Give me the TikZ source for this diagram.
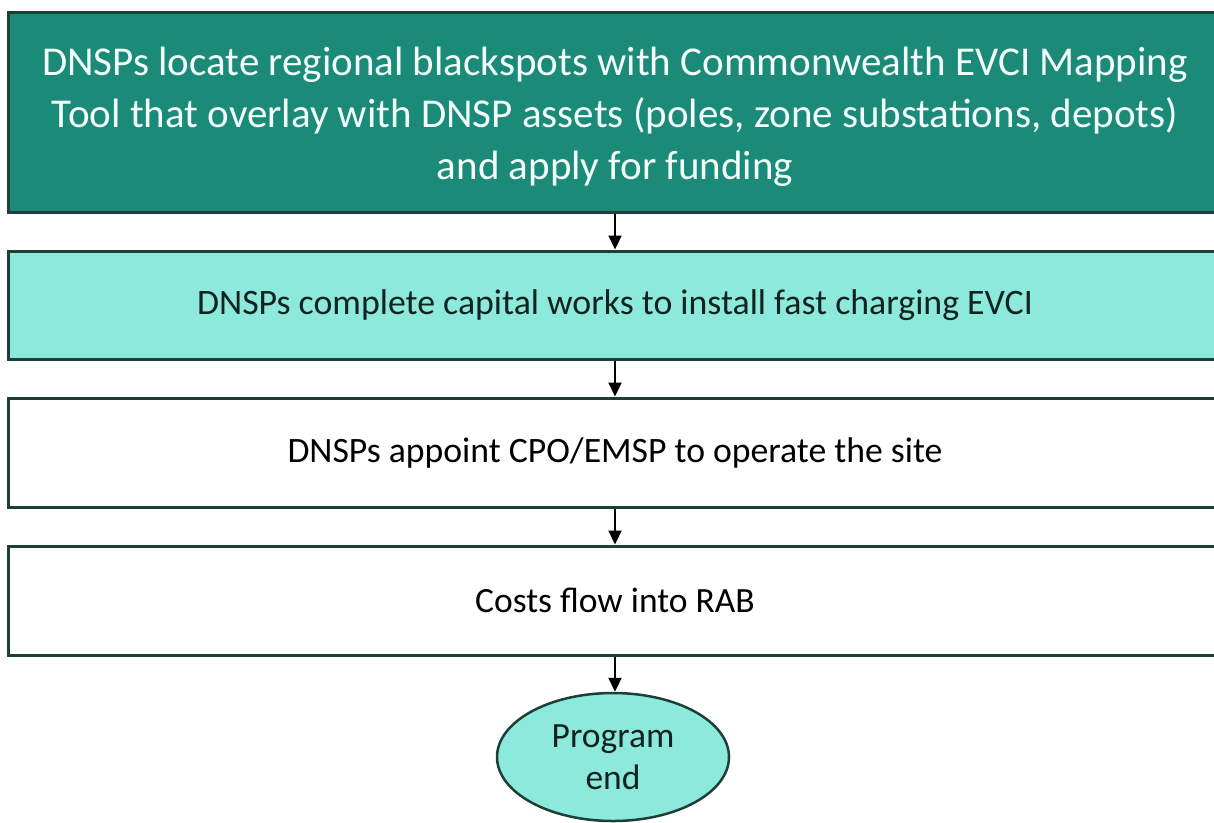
\documentclass[tikz,border=0pt]{standalone}
\usepackage{fontspec}
\setmainfont{Carlito}
\usetikzlibrary{arrows.meta,shapes.geometric}
\definecolor{darkteal}{HTML}{1B8A78}
\definecolor{lightteal}{HTML}{8DE9DC}
\definecolor{bordercol}{HTML}{1C4038}
\definecolor{textwhite}{HTML}{F2FFFA}
\definecolor{textdark}{HTML}{10231F}
\begin{document}
\begin{tikzpicture}[x=1pt,y=-1pt,
  stepbox/.style={draw=bordercol, line width=3pt, minimum width=1214pt, inner sep=0pt, align=center},
  flow/.style={line width=2.2pt, black, -{Triangle[width=13pt,length=14pt]}},
  endnode/.style={ellipse, draw=bordercol, line width=2.5pt, fill=lightteal, minimum width=232pt, minimum height=128pt, inner sep=0pt, align=center, text=textdark, font=\fontsize{35.5}{42}\selectfont}
]
\useasboundingbox (0,0) rectangle (1214,822);
\fill[white] (0,0) rectangle (1214,822);
\node[stepbox, fill=darkteal, minimum height=200pt, text=textwhite, font=\fontsize{41}{52}\selectfont] (b1) at (615,112)
  {\rule{0pt}{39pt}DNSPs locate regional blackspots with Commonwealth EVCI Mapping\\
   Tool that overlay with DNSP assets (poles, zone substations, depots)\\
   and apply for funding};
\node[stepbox, fill=lightteal, minimum height=108pt, text=textdark, font=\fontsize{35.8}{42}\selectfont] (b2) at (615,305)
  {DNSPs complete capital works to install fast charging EVCI};
\node[stepbox, fill=white, minimum height=109pt, text=black, font=\fontsize{35.7}{42}\selectfont] (b3) at (615,452.5)
  {DNSPs appoint CPO/EMSP to operate the site};
\node[stepbox, fill=white, minimum height=109pt, text=black, font=\fontsize{35.5}{42}\selectfont] (b4) at (615,600.5)
  {Costs flow into RAB};
\node[endnode] (e) at (613,757) {Program\\end};
\draw[flow] (b1.south) -- (b2.north);
\draw[flow] (b2.south) -- (b3.north);
\draw[flow] (b3.south) -- (b4.north);
\draw[flow] (b4.south) -- (b4.south |- e.north);
\end{tikzpicture}
\end{document}
